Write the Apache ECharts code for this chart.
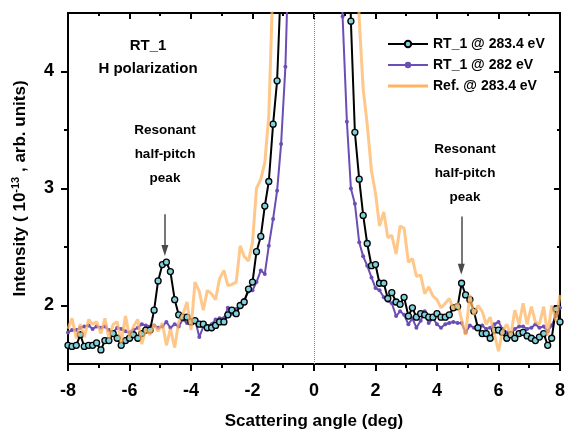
<!DOCTYPE html>
<html>
<head>
<meta charset="utf-8">
<script src="https://cdn.jsdelivr.net/npm/echarts@6/dist/echarts.min.js"></script>
<style>
  html, body { margin: 0; padding: 0; background: #fff; }
  #main { width: 568px; height: 435px; }
</style>
</head>
<body>
<div id="main"></div>
<script>
// scattering angle (deg) shared by the three scans
const angles = [-8.00,-7.87,-7.73,-7.60,-7.47,-7.33,-7.20,-7.07,-6.93,-6.80,
  -6.67,-6.53,-6.40,-6.27,-6.13,-6.00,-5.87,-5.73,-5.60,-5.47,
  -5.33,-5.20,-5.07,-4.93,-4.80,-4.67,-4.53,-4.40,-4.27,-4.13,
  -4.00,-3.87,-3.73,-3.60,-3.47,-3.33,-3.20,-3.07,-2.93,-2.80,
  -2.67,-2.53,-2.40,-2.27,-2.13,-2.00,-1.87,-1.73,-1.60,-1.47,
  -1.33,-1.20,-1.07,-0.93,-0.80,-0.67,-0.53,-0.40,-0.27,-0.13,
  0.00,0.13,0.27,0.40,0.53,0.67,0.80,0.93,1.07,1.20,
  1.33,1.47,1.60,1.73,1.87,2.00,2.13,2.27,2.40,2.53,
  2.67,2.80,2.93,3.07,3.20,3.33,3.47,3.60,3.73,3.87,
  4.00,4.13,4.27,4.40,4.53,4.67,4.80,4.93,5.07,5.20,
  5.33,5.47,5.60,5.73,5.87,6.00,6.13,6.27,6.40,6.53,
  6.67,6.80,6.93,7.07,7.20,7.33,7.47,7.60,7.73,7.87,8.00]

// RT_1 @ 283.4 eV
const rt1_2834 = [1.66,1.65,1.66,1.75,1.65,1.66,1.66,1.68,1.62,1.70,
  1.70,1.76,1.72,1.66,1.70,1.72,1.75,1.72,1.76,1.79,
  1.79,1.96,2.21,2.35,2.37,2.29,2.05,1.92,1.90,1.90,
  1.86,1.87,1.84,1.84,1.81,1.81,1.83,1.86,1.86,1.92,
  1.96,1.93,2.00,2.03,2.14,2.20,2.46,2.59,2.85,3.06,
  3.55,3.92,4.80,6.0,8.0,10.5,13,15,16.5,17.5,
  18,17.5,16.5,15,13,11,9,7.5,6.5,4.43,
  3.48,3.08,2.77,2.53,2.34,2.35,2.19,2.19,2.06,2.11,
  2.03,2.01,2.07,1.91,1.98,1.90,1.93,1.92,1.90,1.90,
  1.93,1.90,1.90,1.92,1.98,1.99,2.19,2.09,2.05,1.95,
  1.81,1.76,1.76,1.72,1.79,1.79,1.77,1.72,1.75,1.72,
  1.76,1.77,1.74,1.72,1.70,1.73,1.76,1.66,1.72,1.97,1.86]

// RT_1 @ 282 eV
const rt1_282 = [1.77,1.79,1.79,1.81,1.82,1.83,1.80,1.82,1.81,1.82,
  1.79,1.77,1.81,1.80,1.78,1.77,1.79,1.81,1.84,1.83,
  1.82,1.83,1.81,1.82,1.86,1.81,1.84,1.82,1.88,1.85,
  1.86,1.88,1.73,1.82,1.81,1.84,1.88,1.89,1.89,1.98,
  1.93,1.97,2.00,2.05,2.12,2.13,2.20,2.30,2.27,2.51,
  2.74,2.98,3.38,4.04,5.24,7,9,11,13,14,
  14.5,14,13,11,9,7,5.5,4.47,3.57,3.00,
  2.87,2.54,2.42,2.34,2.24,2.15,2.13,2.07,2.04,2.02,
  1.91,1.95,1.92,1.84,1.89,1.81,1.87,1.95,1.85,1.89,
  1.84,1.81,1.84,1.85,1.86,1.85,1.85,1.77,1.83,1.81,
  1.82,1.83,1.80,1.81,1.84,1.86,1.80,1.77,1.75,1.80,
  1.82,1.82,1.80,1.81,1.84,1.81,1.82,1.78,1.83,1.91,1.98]

// Ref. @ 283.4 eV
const ref_2834 = [1.80,1.89,1.72,1.84,1.73,1.88,1.84,1.86,1.76,1.89,
  1.72,1.84,1.86,1.68,1.91,1.73,1.82,1.88,1.67,1.80,
  1.75,1.84,1.78,1.85,1.66,1.80,1.64,1.86,1.92,2.03,
  1.79,2.20,2.12,1.96,2.13,2.10,2.05,2.23,2.30,2.17,
  2.18,2.20,2.51,2.42,2.38,2.54,3.00,3.08,3.22,3.62,
  4.8,6.5,9,12,15,18,20,21,22,22,
  22,22,21,20,18,15,12,10,8.5,7,
  5.5,4.45,3.85,3.55,3.15,2.96,2.68,2.80,2.58,2.60,
  2.44,2.68,2.66,2.37,2.40,2.25,2.26,2.10,2.16,2.08,
  2.05,1.98,2.02,2.06,1.97,2.02,1.88,1.75,2.09,1.92,
  2.00,1.95,1.84,1.90,1.75,1.61,1.78,1.84,1.74,1.96,
  1.84,2.02,1.84,1.99,1.86,1.84,1.99,1.74,2.00,1.87,2.09]

const seriesNames = ['RT_1 @ 283.4 eV', 'RT_1 @ 282 eV', 'Ref. @ 283.4 eV']
const yMajor = [2, 3, 4]
const yMinor = [2.5, 3.5]

const FONT = '"Liberation Sans", Arial, sans-serif'

const pairs = ys => angles.map((x, i) => [x, ys[i]])

const chart = echarts.init(document.getElementById('main'), null, { renderer: 'canvas' })

const frameLine = { show: true, onZero: false, lineStyle: { color: '#000', width: 2 } }
const noLine = { show: false, onZero: false }

const option = {
  animation: false,
  backgroundColor: '#fff',
  grid: { left: 68, right: 6, top: 13, bottom: 65, containLabel: false },
  legend: {
    data: [
      { name: seriesNames[0] },
      { name: seriesNames[1] },
      // plain line swatch for the reference scan (no markers)
      { name: seriesNames[2], icon: 'path://M0,0H40V3H0Z' }
    ],
    orient: 'vertical',
    left: 382,
    top: 32,
    itemWidth: 40,
    itemHeight: 8,
    itemGap: 7,
    textStyle: { fontFamily: FONT, fontWeight: 'bold', fontSize: 14, color: '#000' }
  },
  xAxis: [{
    type: 'value', position: 'bottom', min: -8, max: 8, interval: 2,
    axisLine: frameLine,
    axisTick: { show: true, length: 7, lineStyle: { color: '#000', width: 2 } },
    minorTick: { show: true, splitNumber: 2, length: 4, lineStyle: { color: '#000', width: 2 } },
    splitLine: { show: false },
    axisLabel: { margin: 18, fontFamily: FONT, fontWeight: 'bold', fontSize: 18, color: '#000' },
    name: 'Scattering angle (deg)',
    nameLocation: 'middle',
    nameGap: 49,
    nameTextStyle: { fontFamily: FONT, fontWeight: 'bold', fontSize: 17, color: '#000' }
  }, {
    type: 'value', position: 'top', min: -8, max: 8, interval: 2,
    axisLine: frameLine,
    axisTick: { show: true, inside: true, length: 6, lineStyle: { color: '#000', width: 2 } },
    minorTick: { show: true, splitNumber: 2, length: 3, lineStyle: { color: '#000', width: 2 } },
    splitLine: { show: false },
    axisLabel: { show: false }
  }],
  yAxis: [{
    type: 'value', position: 'left', min: 1.5, max: 4.5,
    axisLine: frameLine,
    axisTick: { show: true, length: 7, customValues: yMajor, lineStyle: { color: '#000', width: 2 } },
    axisLabel: { customValues: yMajor, margin: 14, fontFamily: FONT, fontWeight: 'bold', fontSize: 18, color: '#000' },
    splitLine: { show: false },
    name: 'Intensity ( 10{sup|-13} , arb. units)',
    nameLocation: 'middle',
    nameGap: 38,
    nameTextStyle: {
      fontFamily: FONT, fontWeight: 'bold', fontSize: 17, color: '#000',
      rich: { sup: { fontFamily: FONT, fontWeight: 'bold', fontSize: 11, color: '#000', padding: [0, 0, 9, 0] } }
    }
  }, {
    type: 'value', position: 'left', min: 1.5, max: 4.5,
    axisLine: noLine,
    axisTick: { show: true, length: 4, customValues: yMinor, lineStyle: { color: '#000', width: 2 } },
    axisLabel: { show: false },
    splitLine: { show: false }
  }, {
    type: 'value', position: 'right', min: 1.5, max: 4.5,
    axisLine: frameLine,
    axisTick: { show: true, inside: true, length: 6, customValues: yMajor, lineStyle: { color: '#000', width: 2 } },
    axisLabel: { show: false },
    splitLine: { show: false }
  }, {
    type: 'value', position: 'right', min: 1.5, max: 4.5,
    axisLine: noLine,
    axisTick: { show: true, inside: true, length: 3, customValues: yMinor, lineStyle: { color: '#000', width: 2 } },
    axisLabel: { show: false },
    splitLine: { show: false }
  }],
  series: [{
    name: seriesNames[1],
    type: 'line',
    data: pairs(rt1_282),
    clip: true,
    symbol: 'circle',
    symbolSize: 4,
    itemStyle: { color: '#6b4db3' },
    lineStyle: { color: '#6b4db3', width: 2 },
    z: 2,
    markLine: {
      silent: true,
      symbol: ['none', 'none'],
      label: { show: false },
      lineStyle: { color: '#8a8a8a', width: 1, type: 'dotted' },
      data: [{ xAxis: 0 }]
    }
  }, {
    name: seriesNames[0],
    type: 'line',
    data: pairs(rt1_2834),
    clip: true,
    symbol: 'circle',
    symbolSize: 6,
    itemStyle: { color: '#7fd2dc', borderColor: '#000', borderWidth: 1.3 },
    lineStyle: { color: '#000', width: 2 },
    z: 3,
    markLine: {
      silent: true,
      symbol: ['none', 'triangle'],
      symbolSize: [7, 11],
      label: { show: false },
      lineStyle: { color: '#4a4a4a', width: 1.5, type: 'solid' },
      data: [
        [{ coord: [-4.85, 2.78] }, { coord: [-4.85, 2.47] }],
        [{ coord: [4.79, 2.76] }, { coord: [4.79, 2.31] }]
      ]
    }
  }, {
    name: seriesNames[2],
    type: 'line',
    data: pairs(ref_2834),
    clip: true,
    symbol: 'none',
    itemStyle: { color: '#ffb463' },
    lineStyle: { color: '#ffb463', width: 3, opacity: 0.75 },
    z: 4
  }],
  graphic: [
    { type: 'text', x: 148, y: 46, style: { text: 'RT_1', textAlign: 'center', textVerticalAlign: 'middle', font: 'bold 15px ' + FONT, fill: '#000' } },
    { type: 'text', x: 148, y: 69, style: { text: 'H polarization', textAlign: 'center', textVerticalAlign: 'middle', font: 'bold 15px ' + FONT, fill: '#000' } },
    { type: 'text', x: 165, y: 130, style: { text: 'Resonant', textAlign: 'center', textVerticalAlign: 'middle', font: 'bold 13.5px ' + FONT, fill: '#000' } },
    { type: 'text', x: 165, y: 154, style: { text: 'half-pitch', textAlign: 'center', textVerticalAlign: 'middle', font: 'bold 13.5px ' + FONT, fill: '#000' } },
    { type: 'text', x: 165, y: 178, style: { text: 'peak', textAlign: 'center', textVerticalAlign: 'middle', font: 'bold 13.5px ' + FONT, fill: '#000' } },
    { type: 'text', x: 465, y: 149, style: { text: 'Resonant', textAlign: 'center', textVerticalAlign: 'middle', font: 'bold 13.5px ' + FONT, fill: '#000' } },
    { type: 'text', x: 465, y: 173, style: { text: 'half-pitch', textAlign: 'center', textVerticalAlign: 'middle', font: 'bold 13.5px ' + FONT, fill: '#000' } },
    { type: 'text', x: 465, y: 197, style: { text: 'peak', textAlign: 'center', textVerticalAlign: 'middle', font: 'bold 13.5px ' + FONT, fill: '#000' } }
  ]
}

chart.setOption(option)
</script>
</body>
</html>
